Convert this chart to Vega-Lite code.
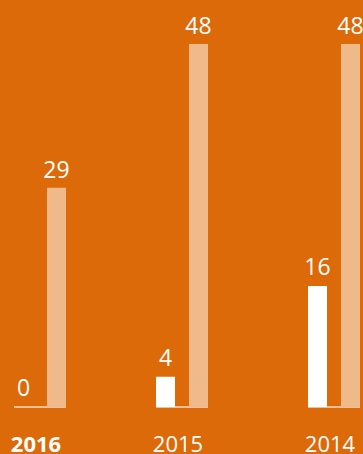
{
  "$schema": "https://vega.github.io/schema/vega-lite/v6.json",
  "width": 363,
  "height": 454,
  "padding": 0,
  "autosize": {"type": "none"},
  "background": "#DD6A09",
  "config": {"view": {"stroke": null}, "font": "Open Sans"},
  "data": {"values": [
    {"year": 2016, "current": 0, "previous": 29},
    {"year": 2015, "current": 4, "previous": 48},
    {"year": 2014, "current": 16, "previous": 48}
  ]},
  "encoding": {
    "x": {
      "field": "year",
      "type": "quantitative",
      "scale": {"domain": [2016, 2015, 2014], "range": [40, 182, 334], "nice": false, "zero": false, "padding": 0},
      "axis": null
    }
  },
  "layer": [
    {
      "mark": {"type": "rule", "color": "#F2BE93", "strokeWidth": 1.8, "xOffset": -26, "x2Offset": 26},
      "encoding": {
        "x2": {"field": "year"},
        "y": {"datum": 0, "type": "quantitative", "scale": {"domain": [0, 48], "range": [407, 44], "nice": false, "zero": true}, "axis": null}
      }
    },
    {
      "mark": {"type": "bar", "color": "#FFFFFF", "width": 19, "xOffset": -16.5},
      "encoding": {
        "y": {"field": "current", "type": "quantitative", "axis": null},
        "y2": {"datum": 0}
      }
    },
    {
      "mark": {"type": "bar", "color": "#F0B98A", "width": 19, "xOffset": 16.5},
      "encoding": {
        "y": {"field": "previous", "type": "quantitative", "axis": null},
        "y2": {"datum": 0}
      }
    },
    {
      "mark": {"type": "text", "color": "#FFFFFF", "fontSize": 23, "font": "Open Sans", "baseline": "alphabetic", "align": "center", "dy": -11, "xOffset": -16.5},
      "encoding": {
        "y": {"field": "current", "type": "quantitative", "axis": null},
        "text": {"field": "current", "type": "quantitative"}
      }
    },
    {
      "mark": {"type": "text", "color": "#FFFFFF", "fontSize": 23, "font": "Open Sans", "baseline": "alphabetic", "align": "center", "dy": -10, "xOffset": 16.5},
      "encoding": {
        "y": {"field": "previous", "type": "quantitative", "axis": null},
        "text": {"field": "previous", "type": "quantitative"}
      }
    },
    {
      "transform": [{"filter": "datum.year == 2016"}],
      "mark": {"type": "text", "color": "#FFFFFF", "fontSize": 22, "fontWeight": "bold", "font": "Open Sans", "baseline": "alphabetic", "align": "center", "dy": 45, "dx": -4},
      "encoding": {
        "y": {"datum": 0, "type": "quantitative", "axis": null},
        "text": {"field": "year", "type": "nominal"}
      }
    },
    {
      "transform": [{"filter": "datum.year != 2016"}],
      "mark": {"type": "text", "color": "#FFFFFF", "fontSize": 22, "fontWeight": "normal", "font": "Open Sans", "baseline": "alphabetic", "align": "center", "dy": 45, "dx": -4},
      "encoding": {
        "y": {"datum": 0, "type": "quantitative", "axis": null},
        "text": {"field": "year", "type": "nominal"}
      }
    }
  ]
}
